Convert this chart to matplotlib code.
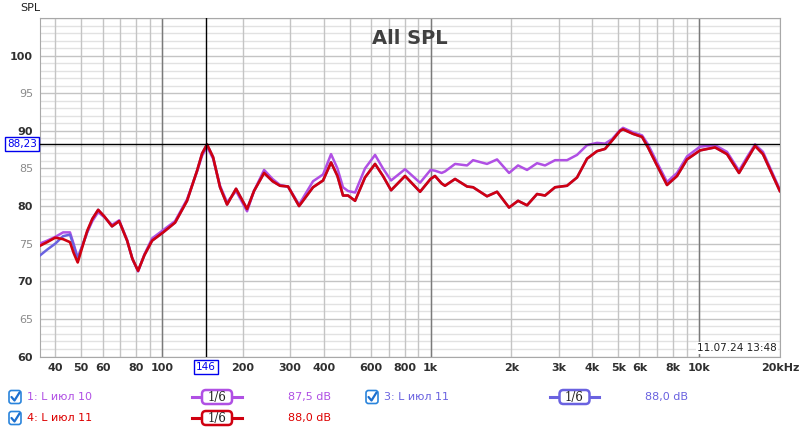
import numpy as np
import matplotlib
matplotlib.use("Agg")
import matplotlib.pyplot as plt
from matplotlib.patches import FancyBboxPatch
from matplotlib.transforms import blended_transform_factory

# Frequencies (Hz)
freqs = [35, 37.3, 40, 42.8, 45.4, 46.8, 48.5, 52.6, 55, 57.8, 61, 65.1, 69.2, 74.1,
         77.5, 81.4, 86, 91.8, 100.9, 111.8, 123.9, 135, 141, 147, 154.9, 164.4, 174.6,
         188.6, 207.3, 220, 239.9, 258, 275, 294.6, 323.8, 365, 397.8, 426, 450, 472,
         492.9, 523.5, 570, 621.4, 665, 712.8, 803.5, 914, 1000, 1039, 1100, 1132, 1234,
         1368, 1440, 1623, 1769, 1961, 2118, 2288, 2493, 2670, 2910, 3224, 3513, 3828,
         4170, 4467, 4743, 5080, 5212, 5679, 6135, 6457, 6976, 7600, 8282, 9022, 10086,
         11471, 12718, 14093, 15093, 16170, 17310, 20000]

# 4: L июл 11
spl_red = [74.7, 75.2, 75.8, 75.6, 75.2, 73.8, 72.5, 76.7, 78.3, 79.5, 78.6, 77.3, 78.0, 75.4,
           73.0, 71.4, 73.5, 75.4, 76.5, 77.8, 80.7, 84.7, 87.0, 88.2, 86.5, 82.5, 80.2,
           82.3, 79.6, 82.0, 84.4, 83.3, 82.7, 82.6, 80.0, 82.5, 83.4, 85.8, 84.0, 81.4,
           81.4, 80.7, 83.8, 85.6, 84.0, 82.1, 84.0, 81.9, 83.6, 84.0, 83.0, 82.7, 83.6,
           82.6, 82.5, 81.3, 81.9, 79.8, 80.7, 80.1, 81.6, 81.4, 82.5, 82.7, 83.8, 86.3,
           87.3, 87.6, 88.7, 90.0, 90.2, 89.6, 89.2, 87.8, 85.4, 82.8, 84.0, 86.2, 87.4,
           87.8, 86.9, 84.4, 86.2, 88.0, 86.9, 82.0]

# 1: L июл 10
spl_purple = [75.0, 75.4, 75.9, 76.5, 76.5, 75.0, 73.1, 76.5, 78.0, 79.2, 78.5, 77.5, 78.1, 75.5,
              73.0, 71.3, 73.6, 75.7, 76.8, 78.0, 80.9, 84.6, 86.7, 87.9, 86.3, 82.7, 80.5,
              82.0, 79.3, 82.0, 84.8, 83.6, 82.8, 82.6, 80.2, 83.3, 84.2, 86.9, 85.0, 82.5,
              82.0, 81.8, 85.0, 86.8, 85.0, 83.4, 84.9, 83.1, 84.8, 84.7, 84.4, 84.6, 85.6,
              85.4, 86.1, 85.6, 86.2, 84.4, 85.4, 84.8, 85.7, 85.4, 86.1, 86.1, 86.8, 88.1,
              88.4, 88.3, 88.9, 90.1, 90.4, 89.8, 89.4, 88.2, 85.8, 83.2, 84.4, 86.6, 87.9,
              88.1, 87.2, 84.7, 86.5, 88.2, 87.2, 82.2]

# 3: L июл 11 - differs from curve 4 only at the low end
spl_blue_low = [73.4, 74.2, 75.0, 76.0, 76.2, 74.8, 73.0, 76.5]
spl_blue = spl_blue_low + spl_red[len(spl_blue_low):]

c_purple = "#b050e4"
c_blue = "#6a62e0"
c_red = "#d00010"

fig = plt.figure(figsize=(8, 4.3), dpi=100)
ax = fig.add_axes([40 / 800, 1 - 356.5 / 430, 740 / 800, 338.5 / 430])
ax.set_xscale("log")
ax.set_xlim(35.1, 20030)
ax.set_ylim(60, 105)

# grid: horizontal first, vertical lines on top of them
for v in range(60, 106):
    ax.axhline(v, color="#c4c4c4" if v % 5 == 0 else "#e2e2e2", lw=1, zorder=0)
minor_f = [m * 10 ** e for e in range(1, 5) for m in range(1, 10) if 35 < m * 10 ** e < 20030]
for f in minor_f:
    ax.axvline(f, color="#c4c4c4", lw=1, zorder=0.5)
for f in [100, 1000, 10000]:
    ax.axvline(f, color="#7a7a7a", lw=1, zorder=0.6)

ax.plot(freqs, spl_purple, color=c_purple, lw=1.8, zorder=3)
ax.plot(freqs, spl_blue, color=c_blue, lw=1.8, zorder=4)
ax.plot(freqs, spl_red, color=c_red, lw=1.9, zorder=5)

# cursor
ax.axvline(146, color="black", lw=1, zorder=6)
ax.axhline(88.23, color="black", lw=1, zorder=6)

xt = [40, 50, 60, 80, 100, 200, 300, 400, 600, 800, 1000, 2000, 3000, 4000, 5000, 6000,
      8000, 10000, 20000]
xl = ["40", "50", "60", "80", "100", "200", "300", "400", "600", "800", "1k", "2k", "3k",
      "4k", "5k", "6k", "8k", "10k", "20kHz"]
ax.set_xticks(xt)
ax.set_xticklabels(xl, fontsize=8, fontweight="bold", color="#303030")
ax.xaxis.set_minor_locator(matplotlib.ticker.NullLocator())
ax.set_yticks(range(60, 101, 5))
ax.set_yticklabels([str(v) for v in range(60, 101, 5)], fontsize=8)
for lab, v in zip(ax.get_yticklabels(), range(60, 101, 5)):
    if v % 10 == 0:
        lab.set_color("#303030")
        lab.set_fontweight("bold")
    else:
        lab.set_color("#8a8a8a")
ax.tick_params(length=0, pad=5)
for s in ax.spines.values():
    s.set_color("#a8a8a8")

ax.text(0.5, 0.94, "All SPL", transform=ax.transAxes, ha="center", va="center",
        fontsize=14, fontweight="bold", color="#404040")
ax.text(0.996, 0.01, "11.07.24 13:48", transform=ax.transAxes, ha="right", va="bottom",
        fontsize=7.5, color="#202020",
        bbox=dict(facecolor="white", edgecolor="none", pad=1))

tr = blended_transform_factory(ax.transAxes, ax.transData)
ax.text(-0.004, 88.23, "88,23", transform=tr, ha="right", va="center", fontsize=7.5,
        color="#0000ee", bbox=dict(facecolor="white", edgecolor="#0000ee", pad=1.5, lw=1))
tr2 = blended_transform_factory(ax.transData, ax.transAxes)
ax.text(146, -0.017, "146", transform=tr2, ha="center", va="top", fontsize=7.5,
        color="#0000ee", bbox=dict(facecolor="white", edgecolor="#0000ee", pad=1.5, lw=1))

# overlay in pixel coordinates for labels and legend
ov = fig.add_axes([0, 0, 1, 1], facecolor="none")
ov.set_xlim(0, 800)
ov.set_ylim(430, 0)
ov.axis("off")
ov.text(20, 8, "SPL", fontsize=8, color="#202020", va="center", ha="left")


def checkbox(x, y):
    ov.add_patch(FancyBboxPatch((x - 6, y - 6.5), 12, 13, boxstyle="round,pad=0,rounding_size=2.5",
                                facecolor="white", edgecolor="#2a84dc", lw=1.2))
    ov.plot([x - 3.5, x - 0.5, x + 4.5], [y, y + 3.5, y - 4.5], color="#1c6fcf", lw=1.6,
            solid_capstyle="round")


def smooth_icon(x0, x1, y, color):
    ov.plot([x0, x1], [y, y], color=color, lw=2.2, zorder=2)
    xm = (x0 + x1) / 2
    ov.add_patch(FancyBboxPatch((xm - 15, y - 7), 30, 14,
                                boxstyle="round,pad=0,rounding_size=4",
                                facecolor="white", edgecolor=color, lw=1.8, zorder=3))
    ov.text(xm, y + 0.5, "1/6", fontsize=8.5, color="#202020", ha="center", va="center",
            family="DejaVu Serif", zorder=4)


legend_rows = [
    (15, 397, "1: L июл 10", c_purple, 192, 242, "87,5 dB"),
    (372, 397, "3: L июл 11", c_blue, 550, 599, "88,0 dB"),
    (15, 418, "4: L июл 11", c_red, 192, 242, "88,0 dB"),
]
for cx, cy, name, col, s0, s1, val in legend_rows:
    checkbox(cx, cy)
    txtcol = "#dd0000" if col == c_red else col
    ov.text(cx + 12, cy, name, fontsize=8, color=txtcol, va="center", ha="left")
    smooth_icon(s0, s1, cy, col)
    ov.text(s1 + 46, cy, val, fontsize=8, color=txtcol, va="center", ha="left")

fig.savefig("out.png", dpi=100, facecolor="white")
